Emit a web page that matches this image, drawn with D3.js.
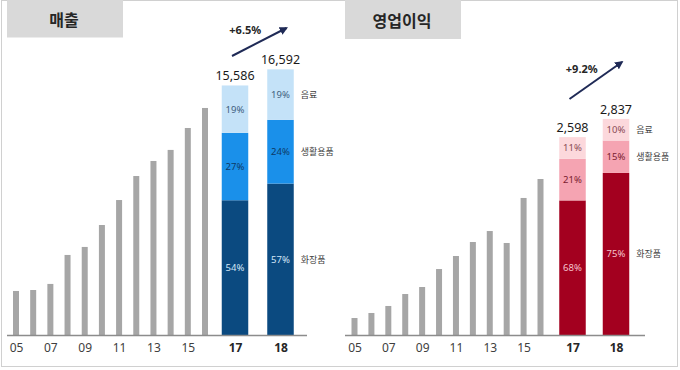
<!DOCTYPE html>
<html><head><meta charset="utf-8">
<script src="https://cdn.jsdelivr.net/npm/d3@7"></script>
<style>
html,body{margin:0;padding:0;background:#fff;}
svg{display:block;font-family:"Noto Sans","Noto Sans CJK KR",sans-serif;}
</style></head>
<body>
<svg id="c" width="680" height="370"></svg>
<script>
// ---- data ----
const histYears = ['05','06','07','08','09','10','11','12','13','14','15','16'];
const tickYears = ['05','07','09','11','13','15'];
const recentYears = ['17','18'];
const salesHist = [2750,2810,3190,5000,5500,6870,8430,9930,10870,11560,12930,14180];
const profitHist = [223,289,381,538,630,866,1037,1221,1365,1208,1799,2048];
const salesTotal = [15586,16592];
const profitTotal = [2598,2837];
const segments = ['화장품','생활용품','음료'];
const salesShare = [[54,27,19],[57,24,19]];
const profitShare = [[68,21,11],[75,15,10]];
const growthLabels = ['+6.5%','+9.2%'];
const panelTitles = ['매출','영업이익'];

// ---- layout / styles ----
const panels = [
  {title: panelTitles[0], hist: salesHist, total: salesTotal, share: salesShare, growth: growthLabels[0],
   box:[7,0,116,37.5], axis:[7,307], histRange:[16,205], recentRange:[235,280.5],
   yMax:10000, yPx:160.1, arrowY:[56,28],
   colors:['#0b4a80','#1a90ea','#c4e2f8'], pctColors:['#d3e7f7','#0d3a66','#3e5e7e']},
  {title: panelTitles[1], hist: profitHist, total: profitTotal, share: profitShare, growth: growthLabels[1],
   box:[345,0,116,39], axis:[345,645], histRange:[354.5,540.5], recentRange:[572.5,616],
   yMax:1000, yPx:76.17, arrowY:[99,62],
   colors:['#a3001f','#f5a4b2','#fcd8dc'], pctColors:['#f5c3cd','#7a2030','#8a4a55']}
];
const baseY = 335;
const svg = d3.select('#c');
const fontK = '"Noto Sans CJK KR","Noto Sans",sans-serif';

svg.append('rect').attr('x',1.5).attr('y',0.5).attr('width',676).attr('height',366)
  .attr('fill','none').attr('stroke','#d0d0d0').attr('stroke-width',1);

const defs = svg.append('defs');
defs.append('marker').attr('id','ah').attr('viewBox','0 0 10 10').attr('refX',8).attr('refY',5)
  .attr('markerWidth',4.2).attr('markerHeight',4.2).attr('orient','auto')
  .append('path').attr('d','M0,0 L10,5 L0,10 Z').attr('fill','#1f2a56');

panels.forEach(p => {
  const g = svg.append('g');
  // header
  g.append('rect').attr('x',p.box[0]).attr('y',p.box[1]).attr('width',p.box[2]).attr('height',p.box[3]).attr('fill','#d9d9d9');
  g.append('text').attr('x',p.box[0]+p.box[2]/2-1).attr('y',p.box[3]/2+0.5).attr('text-anchor','middle')
    .attr('dominant-baseline','central').style('font-family',fontK).style('font-size','16px').style('font-weight','700')
    .attr('fill','#262626').text(p.title);

  const y = d3.scaleLinear().domain([0,p.yMax]).range([baseY, baseY-p.yPx]);
  const xh = d3.scalePoint().domain(histYears).range(p.histRange);
  const xr = d3.scalePoint().domain(recentYears).range(p.recentRange);
  const hw = 6, rw = 26.5;

  // history bars
  g.selectAll('rect.h').data(histYears).join('rect').attr('class','h')
    .attr('x',d=>xh(d)-hw/2).attr('width',hw)
    .attr('y',(d,i)=>y(p.hist[i])).attr('height',(d,i)=>baseY-y(p.hist[i]))
    .attr('fill','#a6a6a6');

  // stacked bars
  recentYears.forEach((yr,j) => {
    const tot = p.total[j];
    let cum = 0;
    p.share[j].forEach((s,k) => {
      const v0 = tot*cum/100, v1 = tot*(cum+s)/100;
      cum += s;
      g.append('rect').attr('x',xr(yr)-rw/2).attr('width',rw)
        .attr('y',y(v1)).attr('height',y(v0)-y(v1)).attr('fill',p.colors[k]);
      g.append('text').attr('x',xr(yr)).attr('y',(y(v0)+y(v1))/2).attr('text-anchor','middle')
        .attr('dominant-baseline','central').style('font-size','9.5px').attr('fill',p.pctColors[k]).text(s+'%');
      if (j===1) {
        g.append('text').attr('x',xr(yr)+rw/2+7).attr('y',(y(v0)+y(v1))/2).attr('dominant-baseline','central')
          .style('font-family',fontK).style('font-size','9px').attr('fill','#404040').text(segments[k]);
      }
    });
    g.append('text').attr('x',xr(yr)).attr('y',y(tot)-5).attr('text-anchor','middle')
      .style('font-size','12.5px').attr('fill','#1a1a1a').text(d3.format(',')(tot));
  });

  // growth arrow
  const ax0 = xr('17')-3, ax1 = xr('18')+6;
  g.append('line').attr('x1',ax0).attr('y1',p.arrowY[0]).attr('x2',ax1).attr('y2',p.arrowY[1])
    .attr('stroke','#1f2a56').attr('stroke-width',2).attr('marker-end','url(#ah)');
  g.append('text').attr('x',(ax0+ax1)/2-14).attr('y',(p.arrowY[0]+p.arrowY[1])/2-8).attr('text-anchor','middle')
    .style('font-size','11px').style('font-weight','700').attr('fill','#262626').text(p.growth);

  // axis line
  g.append('line').attr('x1',p.axis[0]).attr('x2',p.axis[1]).attr('y1',baseY+0.5).attr('y2',baseY+0.5)
    .attr('stroke','#8c8c8c').attr('stroke-width',1.5);

  const a1 = g.append('g').attr('transform',`translate(0,${baseY})`)
    .call(d3.axisBottom(xh).tickValues(tickYears).tickSize(0).tickPadding(8));
  const a2 = g.append('g').attr('transform',`translate(0,${baseY})`)
    .call(d3.axisBottom(xr).tickSize(0).tickPadding(8));
  [a1,a2].forEach(a => { a.select('.domain').remove();
    a.selectAll('text').style('font-family','"Noto Sans",sans-serif').style('font-size','12px').attr('fill','#404040'); });
  a2.selectAll('text').style('font-weight','700').attr('fill','#262626');
});
</script>
</body></html>
